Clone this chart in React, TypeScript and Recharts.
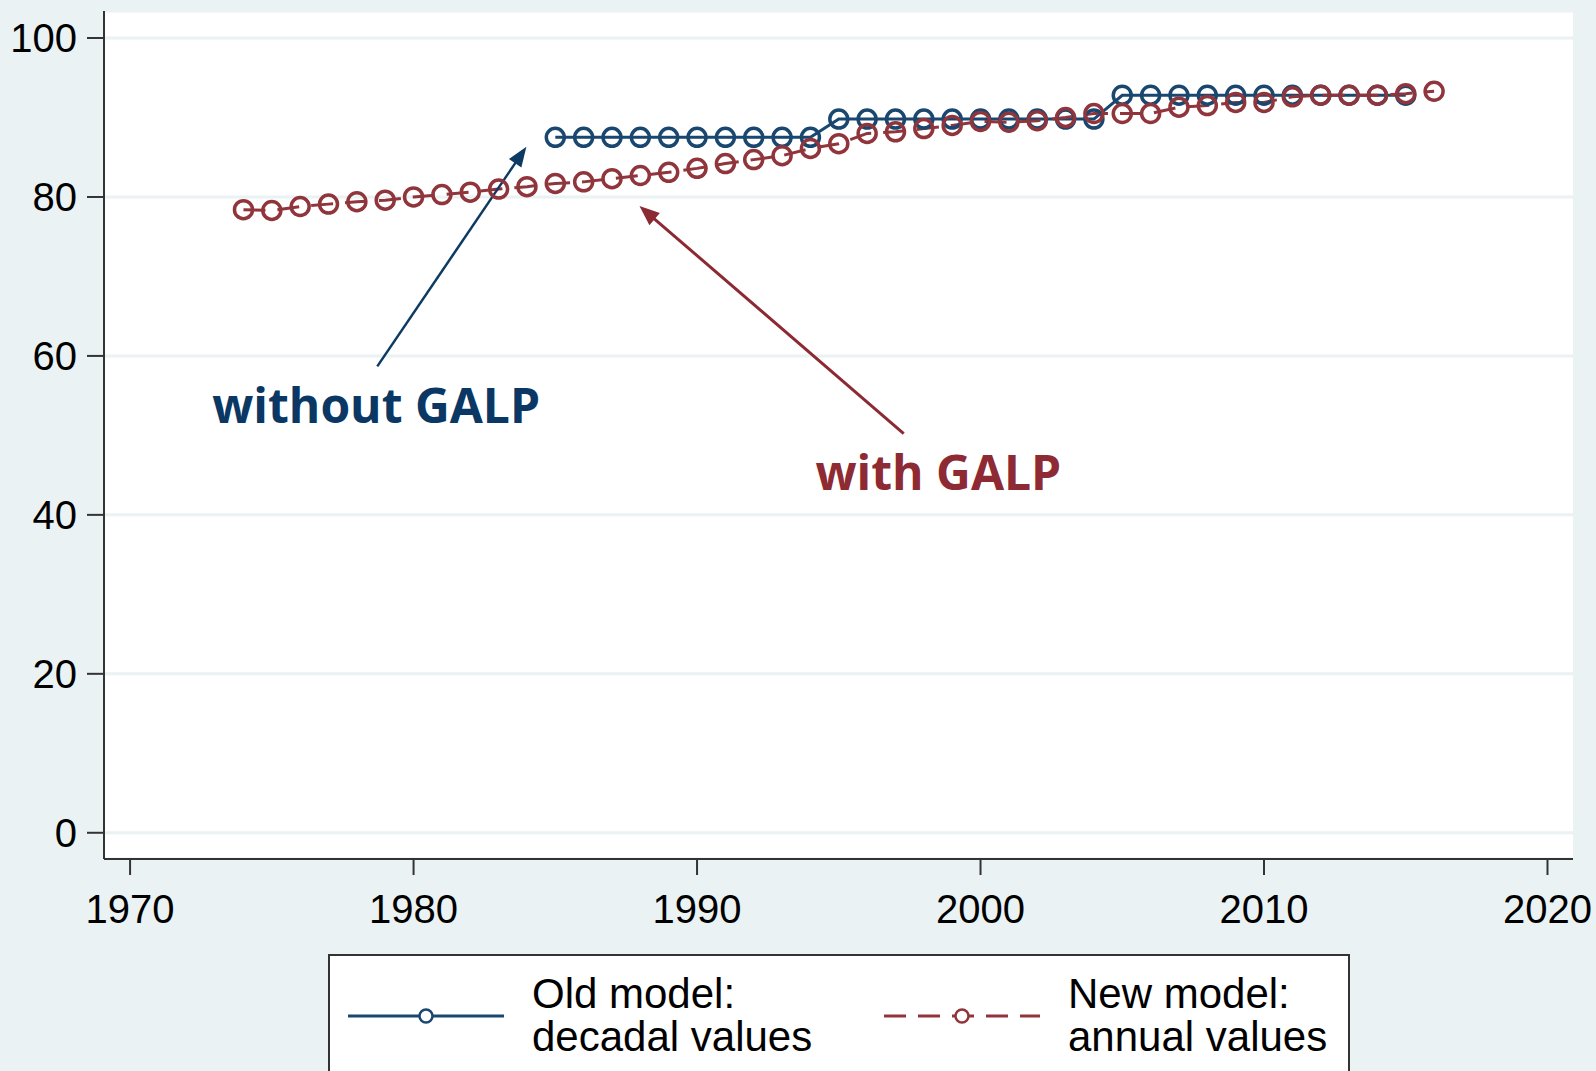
import React from 'react';
import {
  LineChart,
  Line,
  XAxis,
  YAxis,
  CartesianGrid,
  Legend,
  ReferenceLine,
  ReferenceDot,
} from 'recharts';

// annual values, new model (with GALP)
const newYears = [
  1974, 1975, 1976, 1977, 1978, 1979, 1980, 1981, 1982, 1983, 1984, 1985, 1986, 1987, 1988,
  1989, 1990, 1991, 1992, 1993, 1994, 1995, 1996, 1997, 1998, 1999, 2000, 2001, 2002, 2003,
  2004, 2005, 2006, 2007, 2008, 2009, 2010, 2011, 2012, 2013, 2014, 2015, 2016,
];
const newValues = [
  78.4, 78.3, 78.8, 79.1, 79.4, 79.6, 80.0, 80.3, 80.6, 81.0, 81.3, 81.7, 81.9, 82.3, 82.7,
  83.1, 83.6, 84.2, 84.7, 85.2, 86.1, 86.7, 88.0, 88.2, 88.6, 89.0, 89.5, 89.4, 89.6, 90.0,
  90.5, 90.5, 90.5, 91.3, 91.5, 91.9, 91.9, 92.6, 92.8, 92.8, 92.8, 93.0, 93.3,
];

// decadal values, old model (without GALP)
const oldYears = [
  1985, 1986, 1987, 1988, 1989, 1990, 1991, 1992, 1993, 1994, 1995, 1996, 1997, 1998, 1999,
  2000, 2001, 2002, 2003, 2004, 2005, 2006, 2007, 2008, 2009, 2010, 2011, 2012, 2013, 2014,
  2015,
];
const oldValues = [
  87.5, 87.5, 87.5, 87.5, 87.5, 87.5, 87.5, 87.5, 87.5, 87.5, 89.8, 89.8, 89.8, 89.8, 89.8,
  89.8, 89.8, 89.8, 89.8, 89.8, 92.8, 92.8, 92.8, 92.8, 92.8, 92.8, 92.8, 92.8, 92.8, 92.8,
  92.8,
];

const seriesNames = ['Old model:\ndecadal values', 'New model:\nannual values'];
const xTicks = [1970, 1980, 1990, 2000, 2010, 2020];
const yTicks = [0, 20, 40, 60, 80, 100];

const NAVY = '#1a476f';
const MAROON = '#90353b';
const BG = '#eaf2f3';
const AXIS = '#333333';
const FONT = '"Liberation Sans", Arial, sans-serif';

const oldData = oldYears.map((year, i) => ({ year, value: oldValues[i] }));
const newData = newYears.map((year, i) => ({ year, value: newValues[i] }));

const arrowShape = (color: string, width: number, headLen: number, headW: number) =>
  (props: any) => {
    const { x1, y1, x2, y2 } = props;
    const dx = x2 - x1;
    const dy = y2 - y1;
    const len = Math.sqrt(dx * dx + dy * dy) || 1;
    const ux = dx / len;
    const uy = dy / len;
    const bx = x2 - ux * headLen;
    const by = y2 - uy * headLen;
    const pts = `${x2},${y2} ${bx - uy * headW / 2},${by + ux * headW / 2} ${bx + uy * headW / 2},${by - ux * headW / 2}`;
    return (
      <g>
        <line x1={x1} y1={y1} x2={bx + ux * 2} y2={by + uy * 2} stroke={color} strokeWidth={width} />
        <polygon points={pts} fill={color} />
      </g>
    );
  };

const textShape = (label: string, color: string) => (props: any) => (
  <text
    x={props.cx}
    y={props.cy}
    fill={color}
    fontFamily='"Open Sans", sans-serif'
    fontWeight={700}
    fontSize={48}
  >
    {label}
  </text>
);

function LegendBox({ payload }: any) {
  // keep the series order as drawn, not alphabetical
  const items = [...(payload || [])].sort(
    (a: any, b: any) => seriesNames.indexOf(a.value) - seriesNames.indexOf(b.value)
  );
  return (
    <div
      style={{
        position: 'relative',
        width: 1022,
        height: 140,
        boxSizing: 'border-box',
        border: `2px solid ${AXIS}`,
        background: '#fff',
        fontFamily: FONT,
        fontSize: 42,
        color: '#000',
      }}
    >
      {items.map((entry: any, i: number) => {
        const dashed = !!entry.payload?.strokeDasharray;
        const left = i === 0 ? 16 : 552;
        return (
          <div key={entry.value} style={{ position: 'absolute', left, top: 0 }}>
            <svg width={160} height={40} style={{ position: 'absolute', left: 0, top: 40 }}>
              <line
                x1={2}
                y1={20}
                x2={158}
                y2={20}
                stroke={entry.color}
                strokeWidth={3}
                strokeDasharray={dashed ? '22 12' : undefined}
              />
              <circle cx={80} cy={20} r={6.5} fill="#fff" stroke={entry.color} strokeWidth={2.5} />
            </svg>
            <div
              style={{
                position: 'absolute',
                left: 186,
                top: 16,
                lineHeight: '43px',
                whiteSpace: 'pre',
              }}
            >
              {entry.value}
            </div>
          </div>
        );
      })}
    </div>
  );
}

export default function App() {
  return (
    <div
      style={{
        position: 'absolute',
        left: 0,
        top: 0,
        width: 1596,
        height: 1071,
        background: BG,
        overflow: 'hidden',
      }}
    >
      <LineChart
        width={1596}
        height={1071}
        margin={{ top: 11, right: 23, bottom: 152, left: 0 }}
      >
        <CartesianGrid
          vertical={false}
          stroke={BG}
          strokeWidth={3}
          fill="#ffffff"
          fillOpacity={1}
        />
        <XAxis
          dataKey="year"
          type="number"
          domain={[1969.08, 2020.9]}
          ticks={xTicks}
          allowDataOverflow
          height={60}
          tickSize={16}
          tickMargin={20}
          axisLine={{ stroke: AXIS, strokeWidth: 2 }}
          tickLine={{ stroke: AXIS, strokeWidth: 2 }}
          tick={{ fill: '#000', fontSize: 40, fontFamily: FONT }}
        />
        <YAxis
          type="number"
          domain={[-3.3, 103.4]}
          ticks={yTicks}
          allowDataOverflow
          width={104}
          tickSize={17}
          tickMargin={10}
          axisLine={{ stroke: AXIS, strokeWidth: 2 }}
          tickLine={{ stroke: AXIS, strokeWidth: 2 }}
          tick={{ fill: '#000', fontSize: 40, fontFamily: FONT }}
        />
        <Legend
          layout="vertical"
          align="center"
          verticalAlign="middle"
          wrapperStyle={{ left: 328, top: 954, width: 1022 }}
          content={<LegendBox />}
        />
        <Line
          data={oldData}
          dataKey="value"
          name={seriesNames[0]}
          type="linear"
          stroke={NAVY}
          strokeWidth={3}
          dot={{ r: 9, stroke: NAVY, strokeWidth: 3.5, fill: 'none' }}
          activeDot={false}
          isAnimationActive={false}
        />
        <Line
          data={newData}
          dataKey="value"
          name={seriesNames[1]}
          type="linear"
          stroke={MAROON}
          strokeWidth={3}
          strokeDasharray="22 12"
          dot={{ r: 9, stroke: MAROON, strokeWidth: 3.5, fill: 'none', strokeDasharray: '' }}
          activeDot={false}
          isAnimationActive={false}
        />
        <ReferenceLine
          segment={[
            { x: 1978.72, y: 58.68 },
            { x: 1983.98, y: 86.32 },
          ]}
          shape={arrowShape('#0d3a63', 2.5, 20, 15)}
        />
        <ReferenceLine
          segment={[
            { x: 1997.29, y: 50.22 },
            { x: 1987.97, y: 78.86 },
          ]}
          shape={arrowShape('#8b2a33', 3, 20, 16)}
        />
        <ReferenceDot x={1972.9} y={51.56} r={0} shape={textShape('without GALP', '#0a3764')} />
        <ReferenceDot x={1994.18} y={43.12} r={0} shape={textShape('with GALP', '#8e2a33')} />
      </LineChart>
    </div>
  );
}
